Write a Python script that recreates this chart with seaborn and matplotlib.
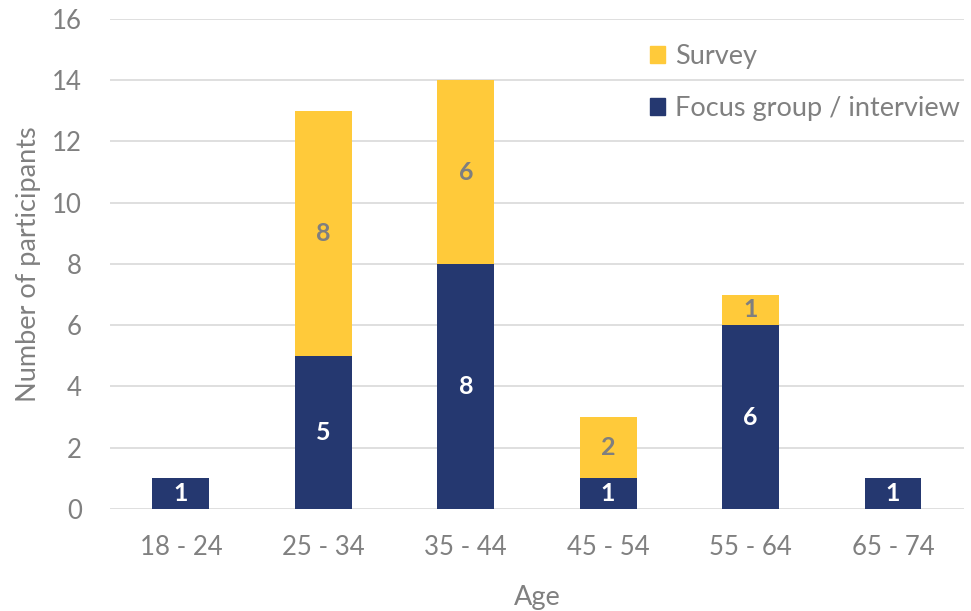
import matplotlib
matplotlib.use("Agg")
import matplotlib.pyplot as plt
import seaborn as sns
import pandas as pd
import numpy as np
from matplotlib.patches import Patch

categories = ["18 - 24", "25 - 34", "35 - 44", "45 - 54", "55 - 64", "65 - 74"]
focus = [1, 5, 8, 1, 6, 1]
survey = [0, 8, 6, 2, 1, 0]
yticks = [0, 2, 4, 6, 8, 10, 12, 14, 16]

NAVY = "#253870"
YELLOW = "#FFCA3A"
GRAY = "#808080"

sns.set_theme(style="white")
plt.rcParams['font.family'] = ['Lato', 'DejaVu Sans']

df = pd.DataFrame({"Age": categories, "focus": focus, "survey": survey})
df["total"] = df["focus"] + df["survey"]

fig = plt.figure(figsize=(9.71, 6.11), dpi=100)
ax = fig.add_axes([0.113, 0.167, 0.880, 0.802])

sns.barplot(data=df, x="Age", y="total", color=YELLOW, width=0.4, ax=ax, saturation=1, linewidth=0)
sns.barplot(data=df, x="Age", y="focus", color=NAVY, width=0.4, ax=ax, saturation=1, linewidth=0)

FT = 18.5
FL = 19.5
ax.set_ylim(0, 16)
ax.set_xlim(-0.5, len(categories) - 0.5)
ax.set_yticks(yticks)
ax.yaxis.grid(True, color="#d9d9d9", linewidth=1.2)
ax.set_axisbelow(True)
for s in ax.spines.values():
    s.set_visible(False)
ax.tick_params(axis="y", length=0, labelsize=FT, labelcolor=GRAY, pad=20)
ax.tick_params(axis="x", length=0, labelsize=FT, labelcolor=GRAY, pad=19)
ax.set_xlabel("Age", fontsize=FL, color=GRAY, labelpad=18)
ax.set_ylabel("Number of participants", fontsize=FL, color=GRAY, labelpad=8)

for i, (f, s) in enumerate(zip(focus, survey)):
    if f > 0:
        ax.text(i, f / 2, str(f), ha="center", va="center", color="white",
                fontsize=18, fontweight="bold")
    if s > 0:
        ax.text(i, f + s / 2, str(s), ha="center", va="center", color="#7f7f7f",
                fontsize=18, fontweight="bold")

handles = [Patch(color=YELLOW, label="Survey"), Patch(color=NAVY, label="Focus group / interview")]
leg = ax.legend(handles=handles, loc="center left", bbox_to_anchor=(0.632, 0.870), frameon=False,
                fontsize=FL, labelcolor=GRAY, handlelength=0.55, handleheight=0.55,
                handletextpad=0.4, labelspacing=1.0, borderaxespad=0, borderpad=0)

fig.savefig("out.png", dpi=100)
